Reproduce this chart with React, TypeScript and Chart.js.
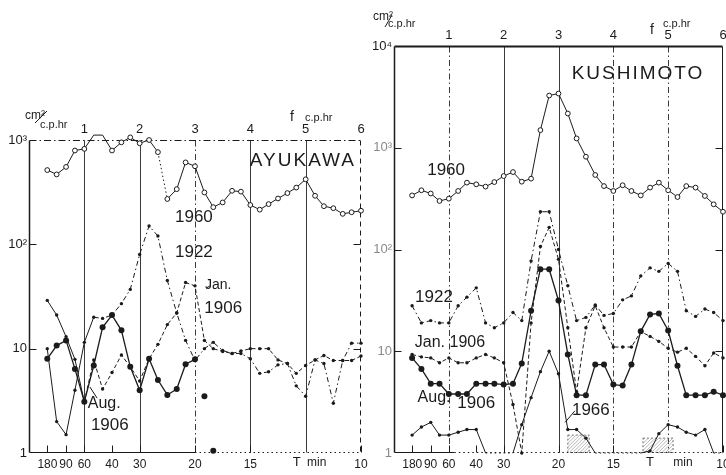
import React, { useEffect, useRef } from "react";
import { Chart, registerables } from "chart.js";

Chart.register(...registerables);

// ---------- data ----------
// frequency grid (c.p.hr), spacing 1/6 c.p.hr
const FREQ = [0.33, 0.5, 0.67, 0.83, 1.0, 1.17, 1.33, 1.5, 1.67, 1.83, 2.0, 2.17, 2.33, 2.5, 2.67, 2.83, 3.0, 3.17, 3.33, 3.5, 3.67, 3.83, 4.0, 4.17, 4.33, 4.5, 4.67, 4.83, 5.0, 5.17, 5.33, 5.5, 5.67, 5.83, 6.0];
const FREQ_TICKS = [1, 2, 3, 4, 5, 6];
const PERIOD_F = [0.333, 0.667, 1, 1.5, 2, 3, 4, 6];
const PERIOD_LABELS = ["180", "90", "60", "40", "30", "20", "15", "10"];

// AYUKAWA (cm²/c.p.hr)
const AYU_1960 = [515, 468, 552, 793, 822, 1114, 1114, 793, 950, 1060, 930, 1000, 765, 272, 338, 610, 560, 314, 227, 252, 326, 320, 238, 215, 243, 275, 310, 350, 420, 292, 232, 222, 196, 203, 210];
const AYU_1922 = [10, 2, 1.5, 4, 11.5, 20, 19.5, 21, 27, 37, 80, 150, 120, 45, 22, 12, 7.7, 10, 11.5, 9.6, 9, 9, 8, 5.8, 6, 7, 7.2, 4.4, 3.5, 7.8, 7.2, 3.0, 7.7, 11.3, 11.3];
const AYU_JAN1906 = [29, 21, 13, 7.9, 3.1, 7.8, 4.1, 5.9, 8.7, 6.7, 4.9, 8, 11, 17, 22, 43, 40, 12, 10, 9.4, 9, 9.5, 10, 10, 10, 7.8, 7.2, 5.8, 6.9, 7.8, 8.6, 7.7, 7.7, 7.7, 8.5];
const AYU_AUG1906 = [8, 10.7, 12, 6.4, 3.1, 6.9, 16, 21, 15, 6.7, 4, 8, 5, 3.6, 4.1, 7.1, 7.9, null, null, null, null, null, null, null, null, null, null, null, null, null, null, null, null, null, null];
const AYU_ISO_F = [3.17, 3.33];
const AYU_ISO_V = [3.5, 1.05];

// KUSHIMOTO (cm²/c.p.hr)
const KUS_1960 = [340, 382, 355, 300, 316, 376, 454, 437, 415, 460, 527, 577, 464, 497, 1490, 3260, 3410, 2170, 1235, 816, 540, 420, 376, 428, 376, 340, 406, 454, 382, 328, 420, 406, 336, 278, 235];
const KUS_1922 = [28, 19, 20, 19, 19, 28, 34, 42, 19, 17, 19, 24, 20, 77, 235, 235, 100, 44, 20, 21.5, 28.5, 22.5, 23.5, 32, 35, 55, 66, 61, 73, 61, 25, 22, 26, 24, 20];
const KUS_JAN1906 = [9.3, 8.8, 8.6, 7.7, 8.6, 7.7, 7.7, 8.6, 9.3, 8.6, 7.7, 3, 1.0, 19, 107, 165, 80, 17, 4, 17, 28, 17, 11, 11, 11, 15.6, 14, 12.5, 10.7, 9.8, 10.7, 8.9, 7.2, 9.6, 8.6];
const KUS_AUG1906 = [8.6, 6.7, 4.8, 4.8, 3.8, 3.8, 3.8, 4.8, 4.8, 4.8, 4.7, 4.8, 7.6, 25, 64, 64, 31.5, 9.3, 3.7, 3.7, 7.4, 7.4, 4.7, 4.6, 7.4, 15.7, 23, 23.5, 16, 7.2, 3.7, 3.7, 3.7, 4, 3.7];
const KUS_1966 = [1.5, 1.8, 2.0, 1.5, 1.5, 1.6, 1.7, 1.7, 1.0, 1, 1, 1, 1.9, 3.5, 6.3, 10, 6, 1.7, 1.7, 1.4, 1, 1, 1, 1, 1, 1, 1.05, 1.55, 1.9, 1.8, 1.6, 1.5, 1.7, 1.0, 1.0];
const HATCH_F0 = [3.17, 4.54];
const HATCH_F1 = [3.56, 5.09];
const HATCH_V = [1.5, 1.4];

// ---------- style ----------
const INK = "#1b1b1b";
const GRID = "#3c3c3c";
const FONT = "'Liberation Sans', Arial, Helvetica, sans-serif";

type Kind = "open" | "dashdot" | "dash" | "big" | "small" | "small1";
type Series = { label: string; values: (number | null)[]; kind: Kind; dottedSegs?: number[]; solidBefore?: number };
type Txt = { t: string; f: number; v: number; size: number; ls?: number };
type Spec = {
  x: number; w: number; top: number; padRight: number; ymax: number;
  yTicks: number[]; yLabels: string[]; yColors: string[];
  series: Series[]; iso?: { f: number[]; v: number[] };
  vDash: number[][]; topDash: number[]; topWidth: number; rightDash: number[];
  bottomSolidTo: number;
  texts: Txt[]; leaders: number[][];
  tMinF: number[];
  units: { cm: number[]; cph: number[]; slash: number[]; f: number[]; fcph: number[] };
  hatch?: boolean;
};

function styleFor(kind: Kind): any {
  const base = { borderColor: INK, pointBorderColor: INK, pointBackgroundColor: INK, borderWidth: 1, pointBorderWidth: 0 };
  switch (kind) {
    case "open":
      return { ...base, pointRadius: 2.4, pointBackgroundColor: "#fff", pointBorderWidth: 1 };
    case "dashdot":
      return { ...base, borderDash: [5, 3, 1.5, 3], pointRadius: 1.7 };
    case "dash":
      return { ...base, borderDash: [4, 2.5], pointRadius: 1.7 };
    case "big":
      return { ...base, borderWidth: 1.3, pointRadius: 3 };
    case "small1":
      return {
        ...base,
        pointRadius: (c: any) => (c.raw && c.raw.y != null && c.raw.y <= 1.001 ? 0 : 1.7),
        segment: { borderDash: (c: any) => (c.p0.parsed.y <= 1.001 && c.p1.parsed.y <= 1.001 ? [1.5, 3] : undefined) },
      };
    default:
      return { ...base, pointRadius: 1.7 };
  }
}

const AYU: Spec = {
  x: 0, w: 370, top: 140, padRight: 9, ymax: 1000,
  yTicks: [1, 10, 100, 1000], yLabels: ["1", "10", "10²", "10³"], yColors: [INK, INK, INK, INK],
  series: [
    { label: "1960", values: AYU_1960, kind: "open", dottedSegs: [12] },
    { label: "1922", values: AYU_1922, kind: "dashdot", solidBefore: 5 },
    { label: "Jan. 1906", values: AYU_JAN1906, kind: "dash", solidBefore: 4 },
    { label: "Aug. 1906", values: AYU_AUG1906, kind: "big" },
  ],
  iso: { f: AYU_ISO_F, v: AYU_ISO_V },
  vDash: [[], [], [6, 3, 1.5, 3], [], []], topDash: [7, 3, 1.5, 3], topWidth: 1.2, rightDash: [5, 4],
  bottomSolidTo: 3.0,
  texts: [
    { t: "AYUKAWA", f: 4.95, v: 630, size: 19, ls: 2 },
    { t: "1960", f: 2.98, v: 182, size: 17 },
    { t: "1922", f: 2.98, v: 83, size: 17 },
    { t: "Jan.", f: 3.42, v: 41, size: 14 },
    { t: "1906", f: 3.51, v: 24.5, size: 17 },
    { t: "Aug.", f: 1.36, v: 3.0, size: 16 },
    { t: "1906", f: 1.46, v: 1.85, size: 17 },
  ],
  leaders: [[1.1, 4.3, 1.23, 3.36], [3.2, 38, 3.27, 40]],
  tMinF: [4.84, 5.2],
  units: { cm: [-4, -21], cph: [11, -12], slash: [6, -17, 18, -29], f: [-71, -19], fcph: [-56, -19] },
};

const KUS: Spec = {
  x: 365, w: 361, top: 46, padRight: 3, ymax: 10000,
  yTicks: [1, 10, 100, 1000, 10000], yLabels: ["1", "10", "10²", "10³", "10⁴"], yColors: ["#8a8a8a", "#8a8a8a", "#8a8a8a", "#8a8a8a", INK],
  series: [
    { label: "1960", values: KUS_1960, kind: "open" },
    { label: "1922", values: KUS_1922, kind: "dashdot" },
    { label: "Jan. 1906", values: KUS_JAN1906, kind: "dash" },
    { label: "Aug. 1906", values: KUS_AUG1906, kind: "big" },
    { label: "1966", values: KUS_1966, kind: "small1" },
  ],
  vDash: [[6, 3, 1.5, 3], [], [], [6, 3, 1.5, 3], [6, 3, 1.5, 3]], topDash: [], topWidth: 2, rightDash: [],
  bottomSolidTo: 1.1,
  texts: [
    { t: "KUSHIMOTO", f: 4.45, v: 5300, size: 19, ls: 2 },
    { t: "1960", f: 0.95, v: 605, size: 17 },
    { t: "1922", f: 0.73, v: 34, size: 17 },
    { t: "Jan. 1906", f: 1.02, v: 12.3, size: 16 },
    { t: "Aug.", f: 0.73, v: 3.47, size: 16 },
    { t: "1906", f: 1.5, v: 3.1, size: 17 },
    { t: "1966", f: 3.59, v: 2.65, size: 17 },
  ],
  leaders: [[3.12, 2.0, 3.3, 2.6]],
  tMinF: [4.67, 5.27],
  units: { cm: [-21, -26], cph: [-6, -19], slash: [-9, -19, -2, -31], f: [-73, -12], fcph: [-60, -19] },
  hatch: true,
};

function buildConfig(spec: Spec): any {
  const datasets: any[] = spec.series.map((s) => {
    const st = styleFor(s.kind);
    if (s.dottedSegs || s.solidBefore != null) {
      st.segment = {
        borderDash: (c: any) => {
          if (s.dottedSegs && s.dottedSegs.includes(c.p0DataIndex)) return [1.5, 2.5];
          if (s.solidBefore != null && c.p0DataIndex < s.solidBefore) return [];
          return undefined;
        },
      };
    }
    return {
      label: s.label,
      data: FREQ.map((f, i) => ({ x: f, y: s.values[i] ?? null })),
      tension: 0, spanGaps: false, clip: false, xAxisID: "xTop", yAxisID: "y",
      pointHoverRadius: 0,
      ...st,
    };
  });
  if (spec.iso) {
    datasets.push({
      label: "isolated",
      data: spec.iso.f.map((f, i) => ({ x: f, y: spec.iso!.v[i] })),
      showLine: false, clip: false, xAxisID: "xTop", yAxisID: "y",
      ...styleFor("big"),
    });
  }

  const frame = {
    id: "frame",
    beforeDatasetsDraw(chart: any) {
      const { ctx, chartArea: a } = chart;
      const xs = chart.scales.xTop, ys = chart.scales.y;
      const seg = (x0: number, y0: number, x1: number, y1: number, dash: number[], w = 1, color = GRID) => {
        ctx.beginPath(); ctx.setLineDash(dash); ctx.lineWidth = w; ctx.strokeStyle = color;
        ctx.moveTo(x0, y0); ctx.lineTo(x1, y1); ctx.stroke();
      };
      ctx.save();
      const L = Math.round(a.left) + 0.5, R = Math.round(a.right) - 0.5, T = Math.round(a.top) + 0.5, B = Math.round(a.bottom) - 0.5;
      spec.vDash.forEach((d, i) => {
        const x = Math.round(xs.getPixelForValue(FREQ_TICKS[i])) + 0.5;
        seg(x, T, x, B, d, 1, GRID);
      });
      if (spec.hatch) {
        HATCH_F0.forEach((f0, i) => {
          const x0 = xs.getPixelForValue(f0), x1 = xs.getPixelForValue(HATCH_F1[i]);
          const y1 = ys.getPixelForValue(HATCH_V[i]);
          ctx.save();
          ctx.beginPath(); ctx.rect(x0, y1, x1 - x0, B - y1); ctx.clip();
          for (let k = -30; k < x1 - x0 + 30; k += 3.5) seg(x0 + k, B, x0 + k + (B - y1), y1, [], 0.6, "#888");
          ctx.restore();
          ctx.setLineDash([2, 2]); ctx.lineWidth = 0.8; ctx.strokeStyle = "#555";
          ctx.strokeRect(x0, y1, x1 - x0, B - y1);
        });
      }
      seg(L, T, L, B, [], 1.5, INK);
      seg(L, T, R, T, spec.topDash, spec.topWidth, INK);
      seg(R, T, R, B, spec.rightDash, 1, INK);
      const xs3 = xs.getPixelForValue(spec.bottomSolidTo);
      seg(L, B, xs3, B, [], 1.2, INK);
      seg(xs3, B, R, B, [1.5, 3], 1, INK);
      spec.yTicks.forEach((v) => {
        if (v === 1 || v === spec.ymax) return;
        const y = Math.round(ys.getPixelForValue(v)) + 0.5;
        seg(L, y, L + 7, y, [], 1, INK);
        seg(R - 7, y, R, y, [], 1, INK);
      });
      PERIOD_F.forEach((f) => {
        const x = Math.round(xs.getPixelForValue(f)) + 0.5;
        seg(x, B, x, B - 7, [], 1, INK);
      });
      ctx.restore();
    },
  };

  const annot = {
    id: "annot",
    afterDraw(chart: any) {
      const { ctx, chartArea: a } = chart;
      const xs = chart.scales.xTop, ys = chart.scales.y;
      ctx.save();
      ctx.fillStyle = INK; ctx.strokeStyle = INK;
      ctx.textAlign = "center"; ctx.textBaseline = "middle";
      spec.texts.forEach((t) => {
        ctx.font = `${t.size}px ${FONT}`;
        (ctx as any).letterSpacing = `${t.ls ?? 0}px`;
        ctx.fillText(t.t, xs.getPixelForValue(t.f), ys.getPixelForValue(t.v));
      });
      (ctx as any).letterSpacing = "0px";
      ctx.lineWidth = 1; ctx.setLineDash([]);
      spec.leaders.forEach((l) => {
        ctx.beginPath();
        ctx.moveTo(xs.getPixelForValue(l[0]), ys.getPixelForValue(l[1]));
        ctx.lineTo(xs.getPixelForValue(l[2]), ys.getPixelForValue(l[3]));
        ctx.stroke();
      });
      ctx.font = `13px ${FONT}`;
      ctx.textBaseline = "top";
      ctx.fillText("T", xs.getPixelForValue(spec.tMinF[0]), a.bottom + 3);
      ctx.font = `12px ${FONT}`;
      ctx.fillText("min", xs.getPixelForValue(spec.tMinF[1]), a.bottom + 4);
      const u = spec.units;
      ctx.textAlign = "left"; ctx.textBaseline = "alphabetic";
      ctx.font = `12px ${FONT}`;
      ctx.fillText("cm²", a.left + u.cm[0], a.top + u.cm[1]);
      ctx.font = `11px ${FONT}`;
      ctx.fillText("c.p.hr", a.left + u.cph[0], a.top + u.cph[1]);
      ctx.beginPath();
      ctx.moveTo(a.left + u.slash[0], a.top + u.slash[1]);
      ctx.lineTo(a.left + u.slash[2], a.top + u.slash[3]);
      ctx.stroke();
      ctx.font = `14px ${FONT}`;
      ctx.fillText("f", a.right + u.f[0], a.top + u.f[1]);
      ctx.font = `11px ${FONT}`;
      ctx.fillText("c.p.hr", a.right + u.fcph[0], a.top + u.fcph[1]);
      ctx.restore();
    },
  };

  const tickFont = { family: FONT, size: 13 };
  const botFont = { family: FONT, size: 12 };
  return {
    type: "line",
    data: { datasets },
    options: {
      animation: false,
      responsive: false,
      maintainAspectRatio: false,
      events: [],
      layout: { padding: { left: 0, right: spec.padRight, top: 0, bottom: 0 }, autoPadding: false },
      plugins: { legend: { display: false }, tooltip: { enabled: false } },
      scales: {
        xTop: {
          type: "linear", position: "top", min: 0, max: 6,
          afterBuildTicks: (s: any) => { s.ticks = FREQ_TICKS.map((v) => ({ value: v })); },
          ticks: { autoSkip: false, maxRotation: 0, padding: 3, color: INK, font: tickFont, callback: (v: any) => String(v) },
          grid: { display: false, drawTicks: false }, border: { display: false },
          afterFit: (s: any) => { s.height = spec.top; s.paddingLeft = 0; s.paddingRight = 0; },
        },
        xBot: {
          type: "linear", position: "bottom", min: 0, max: 6,
          afterBuildTicks: (s: any) => { s.ticks = PERIOD_F.map((v) => ({ value: v })); },
          ticks: { autoSkip: false, maxRotation: 0, padding: 4, color: INK, font: botFont, callback: (_v: any, i: number) => PERIOD_LABELS[i] },
          grid: { display: false, drawTicks: false }, border: { display: false },
          afterFit: (s: any) => { s.height = 22; s.paddingLeft = 0; s.paddingRight = 0; },
        },
        y: {
          type: "logarithmic", position: "left", min: 1, max: spec.ymax,
          afterBuildTicks: (s: any) => { s.ticks = spec.yTicks.map((v) => ({ value: v })); },
          ticks: {
            autoSkip: false, padding: 2, font: tickFont,
            color: (c: any) => spec.yColors[Math.max(0, spec.yTicks.indexOf(c.tick ? c.tick.value : 1))] || INK,
            callback: (v: any) => {
              const i = spec.yTicks.indexOf(Number(v));
              return i >= 0 ? spec.yLabels[i] : "";
            },
          },
          grid: { display: false, drawTicks: false }, border: { display: false },
          afterFit: (s: any) => { s.width = 29; s.paddingTop = 0; s.paddingBottom = 0; },
        },
      },
    },
    plugins: [frame, annot],
  };
}

function Panel({ spec }: { spec: Spec }) {
  const ref = useRef<HTMLCanvasElement | null>(null);
  useEffect(() => {
    if (!ref.current) return;
    const chart = new Chart(ref.current, buildConfig(spec));
    return () => chart.destroy();
  }, [spec]);
  return (
    <canvas
      ref={ref}
      width={spec.w}
      height={475}
      style={{ position: "absolute", left: spec.x, top: 0, width: spec.w, height: 475 }}
    />
  );
}

export default function App() {
  return (
    <div style={{ position: "absolute", left: 0, top: 0, width: 726, height: 475, background: "#fff", overflow: "hidden" }}>
      <Panel spec={AYU} />
      <Panel spec={KUS} />
    </div>
  );
}
